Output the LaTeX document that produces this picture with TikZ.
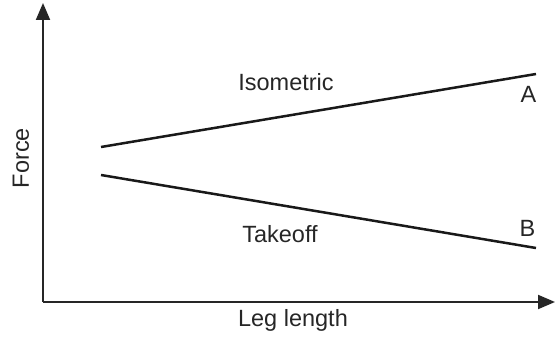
\documentclass[tikz,border=0pt]{standalone}
\usepackage{fontspec}
\setmainfont{Liberation Sans}
\usetikzlibrary{arrows.meta}
\begin{document}
\begin{tikzpicture}[x=1pt,y=-1pt,
  lbl/.style={inner sep=0pt,font=\fontsize{23.5}{28}\selectfont,text=black!85},
  axis/.style={line width=2pt,black!85,-{Triangle[length=17pt,width=14pt]}},
  curve/.style={line width=2.5pt,black!90}]
\useasboundingbox (0,0) rectangle (555,339);
\coordinate (O) at (43,302);
\coordinate (Ytop) at (43,3);
\coordinate (Xend) at (555,302);
\draw[axis] (O) -- (Ytop);
\draw[axis] (O) -- (Xend);
\coordinate (I1) at (101,147);
\coordinate (I2) at (536,74);
\coordinate (T1) at (101,175);
\coordinate (T2) at (536,248);
\draw[curve] (I1) -- (I2);
\draw[curve] (T1) -- (T2);
\node[lbl] (iso) at (286,82) {Isometric};
\node[lbl] (tak) at (280,234) {Takeoff};
\node[lbl] (a) at (528.5,94.5) {A};
\node[lbl] (b) at (527.5,228) {B};
\node[lbl] (xl) at (293,320) {Leg length};
\node[lbl,rotate=90] (yl) at (21,158) {Force};
\end{tikzpicture}
\end{document}
